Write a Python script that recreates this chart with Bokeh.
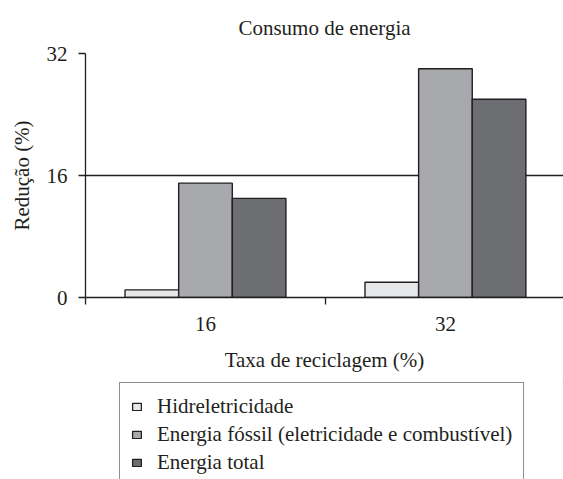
from bokeh.plotting import figure
from bokeh.models import (ColumnDataSource, Range1d, FixedTicker, CustomJSTickFormatter,
                          Legend, LegendItem)
from bokeh.layouts import column
from bokeh.transform import dodge
from bokeh.embed import file_html
from bokeh.resources import INLINE

# ---- data ----
categories = ["16", "32"]
hidro = [1, 2]
fossil = [15, 30]
total = [13, 26]
series_names = ["Hidreletricidade",
                "Energia fóssil (eletricidade e combustível)",
                "Energia total"]
y_ticks = [0, 16, 32]

colors = ["#e6e7e8", "#a7a9ac", "#6d6e71"]
ink = "#231f20"
font = "Liberation Serif"
fs = "21px"

xc = [i + 0.5 for i in range(len(categories))]
src = ColumnDataSource(dict(x=xc, hidro=hidro, fossil=fossil, total=total))

W = 563
LEFT = 85
p = figure(width=W, height=382, output_backend="svg", toolbar_location=None,
           x_range=Range1d(0, 1.992), y_range=Range1d(0, 32),
           min_border_left=LEFT, min_border_right=0, min_border_top=52, min_border_bottom=85,
           title="Consumo de energia")
p.outline_line_color = None

bw = 0.2235
offs = [-bw, 0, bw]
keys = ["hidro", "fossil", "total"]
for key, off, col in zip(keys, offs, colors):
    p.vbar(x=dodge("x", off), top=key, width=bw, source=src,
           fill_color=col, line_color=ink, line_width=1.4)

# title
p.title.align = "center"
p.title.text_font = font
p.title.text_font_size = fs
p.title.text_font_style = "normal"
p.title.text_color = ink
p.title.standoff = 27

# x axis
xa = p.xaxis[0]
xa.ticker = FixedTicker(ticks=xc, minor_ticks=[i for i in range(len(categories) + 1)])
xa.formatter = CustomJSTickFormatter(args=dict(labels=categories),
                                     code="return labels[Math.floor(tick)]")
xa.major_tick_out = 0
xa.major_tick_in = 0
xa.minor_tick_out = 7
xa.minor_tick_in = 0
xa.minor_tick_line_color = ink
xa.minor_tick_line_width = 1.3
xa.axis_line_color = ink
xa.axis_line_width = 1.3
xa.major_label_text_font = font
xa.major_label_text_font_size = fs
xa.major_label_text_color = ink
xa.major_label_standoff = 12
xa.axis_label = "Taxa de reciclagem (%)"
xa.axis_label_text_font = font
xa.axis_label_text_font_size = fs
xa.axis_label_text_font_style = "normal"
xa.axis_label_text_color = ink
xa.axis_label_standoff = 14

# y axis
ya = p.yaxis[0]
ya.ticker = FixedTicker(ticks=y_ticks, minor_ticks=[])
ya.major_tick_out = 7
ya.major_tick_in = 0
ya.major_tick_line_color = ink
ya.major_tick_line_width = 1.3
ya.axis_line_color = ink
ya.axis_line_width = 1.3
ya.major_label_text_font = font
ya.major_label_text_font_size = fs
ya.major_label_text_color = ink
ya.major_label_standoff = 11
ya.axis_label = "Redução (%)"
ya.axis_label_text_font = font
ya.axis_label_text_font_size = fs
ya.axis_label_text_font_style = "normal"
ya.axis_label_text_color = ink
ya.axis_label_standoff = 10

# grid
p.xgrid.visible = False
p.ygrid.ticker = FixedTicker(ticks=[16])
p.ygrid.grid_line_color = ink
p.ygrid.grid_line_width = 1.3
p.ygrid.grid_line_alpha = 1

# ---- legend panel (cut off at the bottom like the reference) ----
QH = 479 - 382
q = figure(width=W, height=QH, output_backend="svg", toolbar_location=None,
           x_range=Range1d(0, 1), y_range=Range1d(-2, -1),
           min_border_left=LEFT, min_border_right=0, min_border_top=0, min_border_bottom=0)
q.axis.visible = False
q.grid.visible = False
q.outline_line_color = None
# same bars, kept outside the visible range: only their legend swatches show
leg_r = [q.vbar(x="x", top=key, width=bw, source=src,
                fill_color=col, line_color=ink, line_width=1.3)
         for key, col in zip(keys, colors)]

pad = 11
row_h = 25
spc = 3
H = 2 * pad + 3 * row_h + 2 * spc
frame_h = QH
legend = Legend(items=[LegendItem(label=n, renderers=[r]) for n, r in zip(series_names, leg_r)],
                location=(119 - LEFT, frame_h - H - 2))
legend.label_text_font = font
legend.label_text_font_size = fs
legend.label_text_color = ink
legend.glyph_width = 11
legend.glyph_height = 9
legend.label_standoff = 15
legend.padding = pad
legend.spacing = spc
legend.margin = 0
legend.border_line_color = ink
legend.border_line_width = 1.3
legend.background_fill_alpha = 1
q.add_layout(legend, "center")

layout = column(p, q, spacing=0)
open("out.html", "w").write(file_html(layout, INLINE))
